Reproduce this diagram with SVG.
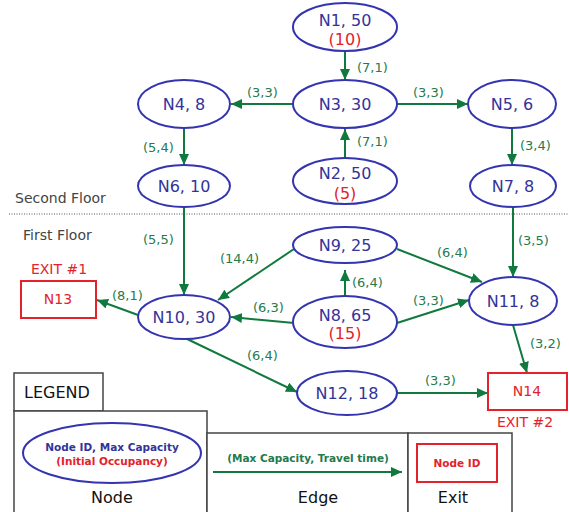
<svg xmlns="http://www.w3.org/2000/svg" width="569" height="512" viewBox="0 0 569 512">
<defs>
<marker id="ah" markerUnits="userSpaceOnUse" markerWidth="12" markerHeight="10" refX="11" refY="5" orient="auto">
<path d="M0,0 L11,5 L0,10 Z" fill="#107a3e"/>
</marker>
<style>
.nd{fill:#fff;stroke:#3434b0;stroke-width:2}
.nt{font-family:"DejaVu Sans",Verdana,sans-serif;font-size:16px;fill:#33339a;text-anchor:middle}
.rt{font-family:"DejaVu Sans",Verdana,sans-serif;font-size:16px;fill:#e3222b;text-anchor:middle}
.ex{fill:#fff;stroke:#e3222b;stroke-width:2}
.et{font-family:"DejaVu Sans",Verdana,sans-serif;font-size:14px;fill:#e3222b;text-anchor:middle}
.ed{fill:none;stroke:#107a3e;stroke-width:2;marker-end:url(#ah)}
.el{font-family:"DejaVu Sans",Verdana,sans-serif;font-size:13px;fill:#257a4c}
.fl{font-family:"DejaVu Sans",Verdana,sans-serif;font-size:14px;fill:#444}
.lb{fill:#fff;stroke:#444;stroke-width:1.5}
.lt{font-family:"DejaVu Sans",Verdana,sans-serif;font-size:16px;fill:#111;text-anchor:middle}
.ls{font-family:"DejaVu Sans",Verdana,sans-serif;font-size:10.5px;font-weight:bold;text-anchor:middle}
</style>
</defs>
<rect width="569" height="512" fill="#fff"/>
<line x1="9" y1="214" x2="569" y2="214" stroke="#555" stroke-width="1" stroke-dasharray="1,1.5"/>
<text class="fl" x="15" y="203">Second Floor</text>
<text class="fl" x="23" y="240">First Floor</text>

<g id="connectors">
<path class="ed" d="M345,51 L345,80"/>
<text class="el" x="357" y="72">(7,1)</text>
<path class="ed" d="M345,158 L345,129"/>
<text class="el" x="357" y="146">(7,1)</text>
<path class="ed" d="M293,104 L231,104"/>
<text class="el" x="247" y="97">(3,3)</text>
<path class="ed" d="M397,104 L468,104"/>
<text class="el" x="413" y="97">(3,3)</text>
<path class="ed" d="M184,128 L184,165"/>
<text class="el" x="143" y="152">(5,4)</text>
<path class="ed" d="M512,128 L512,165"/>
<text class="el" x="520" y="150">(3,4)</text>
<path class="ed" d="M184,207 L184,295"/>
<text class="el" x="143" y="244">(5,5)</text>
<path class="ed" d="M513,207 L513,277"/>
<text class="el" x="518" y="245">(3,5)</text>
<path class="ed" d="M294,249 L218,300"/>
<text class="el" x="220" y="263">(14,4)</text>
<path class="ed" d="M294,323 L231,317"/>
<text class="el" x="253" y="312">(6,3)</text>
<path class="ed" d="M138,315 L97,300"/>
<text class="el" x="112" y="300">(8,1)</text>
<path class="ed" d="M185,338 L297,392"/>
<text class="el" x="247" y="360">(6,4)</text>
<path class="ed" d="M345,296 L345,270"/>
<text class="el" x="352" y="287">(6,4)</text>
<path class="ed" d="M397,249 L482,282"/>
<text class="el" x="437" y="257">(6,4)</text>
<path class="ed" d="M397,323 L469,300"/>
<text class="el" x="413" y="305">(3,3)</text>
<path class="ed" d="M513,325 L527,373"/>
<text class="el" x="530" y="348">(3,2)</text>
<path class="ed" d="M397,393 L488,393"/>
<text class="el" x="425" y="385">(3,3)</text>
</g>

<g id="N1"><ellipse class="nd" cx="345" cy="27" rx="52" ry="24"/><text class="nt" x="345" y="26">N1, 50</text><text class="rt" x="345" y="45">(10)</text></g>
<g id="N2"><ellipse class="nd" cx="345" cy="181" rx="52" ry="23"/><text class="nt" x="345" y="179">N2, 50</text><text class="rt" x="345" y="199">(5)</text></g>
<g id="N3"><ellipse class="nd" cx="345" cy="104" rx="52" ry="24"/><text class="nt" x="345" y="110">N3, 30</text></g>
<g id="N4"><ellipse class="nd" cx="184" cy="104" rx="46" ry="24"/><text class="nt" x="184" y="110">N4, 8</text></g>
<g id="N5"><ellipse class="nd" cx="512" cy="104" rx="44" ry="24"/><text class="nt" x="512" y="110">N5, 6</text></g>
<g id="N6"><ellipse class="nd" cx="184" cy="186" rx="46" ry="21"/><text class="nt" x="184" y="192">N6, 10</text></g>
<g id="N7"><ellipse class="nd" cx="513" cy="186" rx="43" ry="21"/><text class="nt" x="513" y="192">N7, 8</text></g>
<g id="N8"><ellipse class="nd" cx="345" cy="322" rx="52" ry="26"/><text class="nt" x="345" y="321">N8, 65</text><text class="rt" x="345" y="339">(15)</text></g>
<g id="N9"><ellipse class="nd" cx="345" cy="245" rx="52" ry="18"/><text class="nt" x="345" y="251">N9, 25</text></g>
<g id="N10"><ellipse class="nd" cx="184" cy="317" rx="46" ry="22"/><text class="nt" x="184" y="323">N10, 30</text></g>
<g id="N11"><ellipse class="nd" cx="513" cy="301" rx="44" ry="24"/><text class="nt" x="513" y="307">N11, 8</text></g>
<g id="N12"><ellipse class="nd" cx="347" cy="393" rx="50" ry="22"/><text class="nt" x="347" y="399">N12, 18</text></g>
<g id="N13"><rect class="ex" x="21" y="281" width="75" height="37"/><text class="et" x="58" y="304">N13</text><text class="et" x="59" y="274">EXIT #1</text></g>
<g id="N14"><rect class="ex" x="488" y="373" width="79" height="37"/><text class="et" x="527" y="396">N14</text><text class="et" x="525" y="427">EXIT #2</text></g>

<g id="legend">
<rect class="lb" x="14" y="373" width="89" height="38"/>
<text class="lt" x="57" y="398">LEGEND</text>
<rect class="lb" x="14" y="411" width="193" height="110"/>
<rect class="lb" x="207" y="433" width="201" height="90"/>
<rect class="lb" x="408" y="433" width="104" height="90"/>
<ellipse class="nd" cx="112" cy="453" rx="89" ry="30"/>
<text class="ls" x="112" y="451" fill="#33339a">Node ID,  Max Capacity</text>
<text class="ls" x="112" y="465" fill="#e3222b">(Initial Occupancy)</text>
<text class="lt" x="112" y="503">Node</text>
<path class="ed" d="M213,472 L402,472"/>
<text class="ls" x="308" y="462" fill="#257a4c">(Max Capacity, Travel time)</text>
<text class="lt" x="318" y="503">Edge</text>
<rect class="ex" x="417" y="444" width="80" height="38"/>
<text class="ls" x="457" y="467" fill="#e3222b">Node ID</text>
<text class="lt" x="453" y="503">Exit</text>
</g>
</svg>
